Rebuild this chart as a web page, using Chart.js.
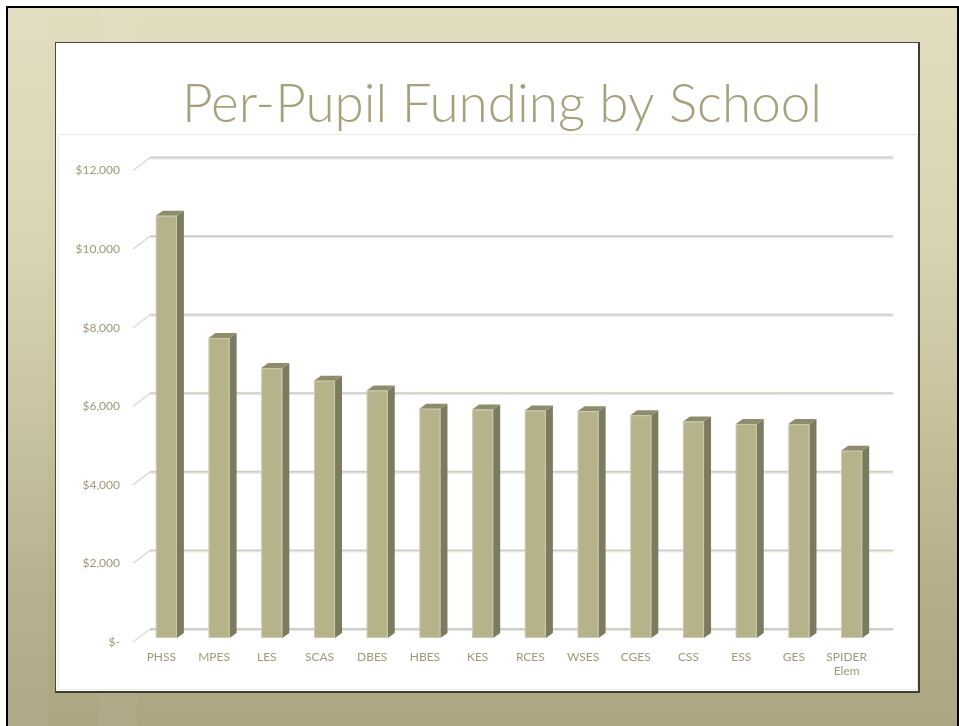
<!DOCTYPE html>
<html>
<head>
<meta charset="utf-8">
<title>Per-Pupil Funding by School</title>
<script src="https://cdn.jsdelivr.net/npm/chart.js@4.4.1/dist/chart.umd.min.js"></script>
<style>
  html, body { margin: 0; padding: 0; background: #fff; }
  body { width: 959px; height: 726px; position: relative; overflow: hidden; }
  #frame {
    position: absolute; left: 6px; top: 6px; width: 949px; height: 722px;
    border-left: 2px solid #000; border-top: 2px solid #000; border-right: 2px solid #000;
    background:
      linear-gradient(90deg, rgba(255,255,255,0.04) 0 40px, rgba(0,0,0,0) 40px 90px, rgba(255,255,255,0.03) 90px 130px, rgba(0,0,0,0) 130px),
      linear-gradient(180deg, #e2ddbf 0%, #d9d4b2 30%, #c8c29f 55%, #b4ae8b 80%, #aba581 100%);
  }
  #panel {
    position: absolute; left: 55px; top: 42px; width: 862px; height: 648px;
    background: #fff;
    border-top: 1px solid #4a4a3c; border-left: 1px solid #4a4a3c;
    border-right: 2px solid #3e3e32; border-bottom: 2px solid #3e3e32;
  }
  #plotbox {
    position: absolute; left: 58px; top: 134px; width: 858px; height: 554px;
    border: 1px solid #ebebe5;
  }
  #c { position: absolute; left: 70px; top: 43px; }
</style>
</head>
<body>
<div id="frame"></div>
<div id="panel"></div>
<div id="plotbox"></div>
<canvas id="c" width="864" height="648"></canvas>
<script>
'use strict';

// --- data ---
const schools = ['PHSS', 'MPES', 'LES', 'SCAS', 'DBES', 'HBES', 'KES', 'RCES',
                 'WSES', 'CGES', 'CSS', 'ESS', 'GES', ['SPIDER', 'Elem']];
const funding = [10750, 7640, 6870, 6550, 6300, 5835, 5815, 5790,
                 5775, 5670, 5510, 5450, 5445, 4765];
const yTicks = [0, 2000, 4000, 6000, 8000, 10000, 12000];

const FRONT = '#b6b38b';
const SIDE = '#7c7a5f';
const TOP = '#8f8c6d';
const TEXT = '#9e9978';

// fake 3D: back wall lines + bar sides/tops
const depth3d = {
  id: 'depth3d',
  beforeDatasetsDraw(chart) {
    const { ctx, chartArea, scales } = chart;
    const y = scales.y;
    ctx.save();
    y.ticks.forEach(t => {
      const py = y.getPixelForValue(t.value);
      // diagonal from front edge to wall
      ctx.strokeStyle = '#dedcd4';
      ctx.lineWidth = 1.5;
      ctx.beginPath();
      ctx.moveTo(chartArea.left - 7, py + 4);
      ctx.lineTo(chartArea.left + 10, py - 9);
      ctx.stroke();
      // wall line
      ctx.strokeStyle = '#cfcfc6';
      ctx.lineWidth = 2;
      ctx.beginPath();
      ctx.moveTo(chartArea.left + 10, py - 9);
      ctx.lineTo(chartArea.right + 15, py - 9);
      ctx.stroke();
      ctx.strokeStyle = '#e8e8e2';
      ctx.lineWidth = 1;
      ctx.beginPath();
      ctx.moveTo(chartArea.left + 10, py - 7.5);
      ctx.lineTo(chartArea.right + 15, py - 7.5);
      ctx.stroke();
    });
    ctx.restore();
  },
  afterDatasetsDraw(chart) {
    const { ctx } = chart;
    const dx = 7, dy = 5;
    ctx.save();
    chart.getDatasetMeta(0).data.forEach(bar => {
      const { x, y, base, width } = bar.getProps(['x', 'y', 'base', 'width'], true);
      const l = x - width / 2, r = x + width / 2;
      ctx.fillStyle = SIDE;
      ctx.beginPath();
      ctx.moveTo(r, y);
      ctx.lineTo(r + dx, y - dy);
      ctx.lineTo(r + dx, base - dy);
      ctx.lineTo(r, base);
      ctx.closePath();
      ctx.fill();
      ctx.fillStyle = TOP;
      ctx.beginPath();
      ctx.moveTo(l, y);
      ctx.lineTo(l + dx, y - dy);
      ctx.lineTo(r + dx, y - dy);
      ctx.lineTo(r, y);
      ctx.closePath();
      ctx.fill();
      // light edge on the front face
      ctx.strokeStyle = 'rgba(255,255,255,0.3)';
      ctx.lineWidth = 1;
      ctx.strokeRect(l + 0.5, y + 0.5, width - 1, base - y - 1);
    });
    ctx.restore();
  }
};

new Chart(document.getElementById('c').getContext('2d'), {
  type: 'bar',
  data: {
    labels: schools,
    datasets: [{
      label: 'Per-Pupil Funding',
      data: funding,
      backgroundColor: FRONT,
      borderWidth: 0,
      categoryPercentage: 1,
      barPercentage: 0.4,
    }],
  },
  options: {
    responsive: false,
    animation: false,
    layout: { padding: 0 },
    plugins: {
      legend: { display: false },
      tooltip: { enabled: false },
      title: {
        display: true,
        text: 'Per-Pupil Funding by School',
        color: '#a6a17b',
        font: { family: 'Lato', size: 53, weight: '300', lineHeight: 1.2 },
        padding: { top: 30, bottom: 30 },
      },
    },
    scales: {
      x: {
        grid: { display: false, drawTicks: false },
        border: { display: false },
        ticks: {
          color: TEXT,
          font: { family: 'Lato', size: 12, lineHeight: 1.1 },
          padding: 13,
          labelOffset: -5,
          autoSkip: false,
          maxRotation: 0,
        },
        afterFit: s => { s.height = 53; },
      },
      y: {
        min: 0,
        max: 12000,
        afterBuildTicks: s => { s.ticks = yTicks.map(v => ({ value: v })); },
        grid: { display: false, drawTicks: false },
        border: { display: false },
        ticks: {
          color: TEXT,
          font: { family: 'Lato', size: 12 },
          padding: 20,
          labelOffset: 4,
          callback: v => v === 0 ? '$-' : '$' + v.toLocaleString('en-US'),
        },
        afterFit: s => { s.width = 70; },
      },
      yRight: {
        position: 'right',
        grid: { display: false, drawTicks: false },
        border: { display: false },
        ticks: { display: false },
        afterFit: s => { s.width = 56; },
      },
    },
  },
  plugins: [depth3d],
});
</script>
</body>
</html>
